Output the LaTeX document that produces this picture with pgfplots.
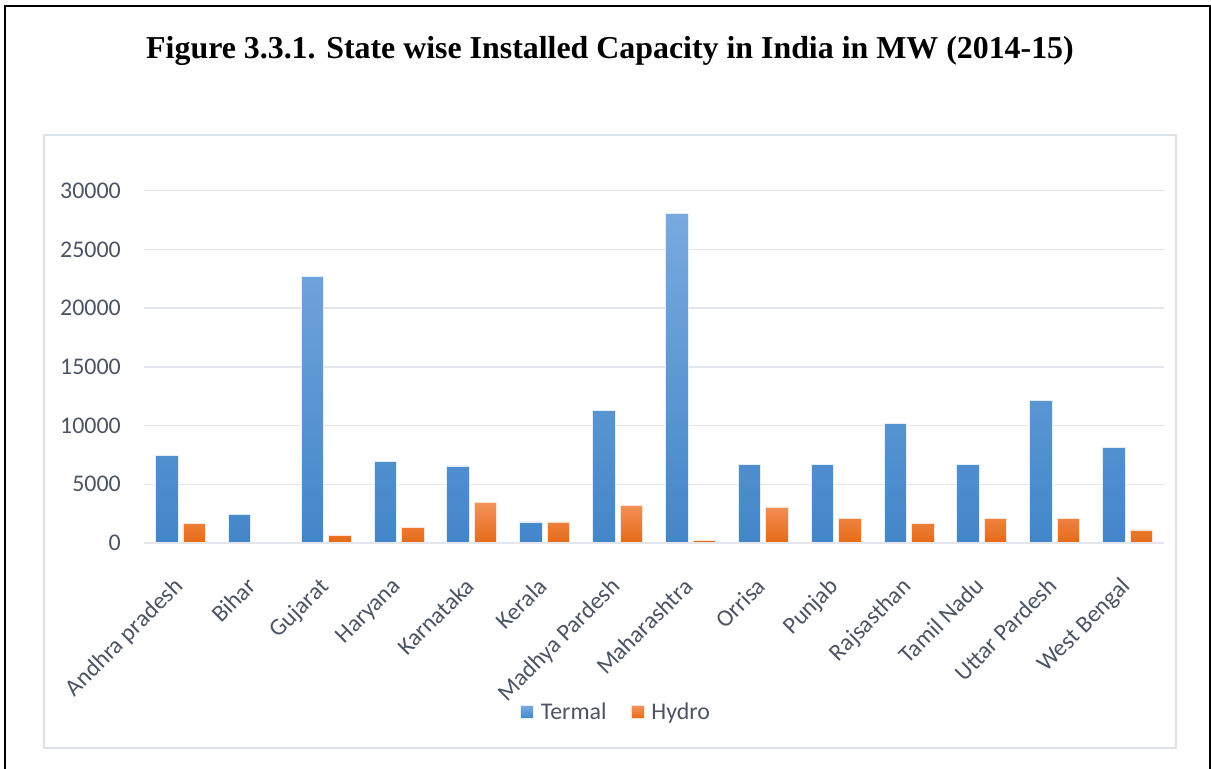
\documentclass[border=0pt]{standalone}
\usepackage{pgfplots}
\pgfplotsset{compat=1.18}
\usepackage{fontspec}
\setmainfont{Carlito}
\newfontfamily\titlefont{Liberation Serif}
\definecolor{txt}{HTML}{4A5464}
\definecolor{gridc}{HTML}{E3E6EA}
\definecolor{boxc}{HTML}{DDE2E8}
\definecolor{tTop}{HTML}{78AADF}
\definecolor{tBot}{HTML}{4386C9}
\definecolor{hTop}{HTML}{F3935C}
\definecolor{hBot}{HTML}{E66A17}
\begin{document}
\begin{tikzpicture}[x=1bp,y=1bp]
\path[use as bounding box] (0,0) rectangle (1211,-769);
\draw[black, line width=2bp] (5,-769) -- (5,-6) -- (1210,-6) -- (1210,-769);
\node[font=\titlefont\bfseries\fontsize{32}{36}\selectfont] at (610,-51) {Figure 3.3.1. State wise Installed Capacity in India in MW (2014-15)};
\draw[boxc, line width=1.8bp] (44,-135) rectangle (1176,-748);
\begin{axis}[
  at={(144bp,-543bp)}, anchor=south west,
  scale only axis, width=1020bp, height=352.3bp,
  ybar=5bp, bar width=22.5bp,
  xmin=-0.5, xmax=13.5, ymin=0, ymax=30000,
  ytick={0,5000,10000,15000,20000,25000,30000},
  scaled y ticks=false,
  ymajorgrids, grid style={gridc, line width=1.5bp},
  axis line style={draw=none},
  axis x line*=bottom, axis y line*=left,
  major tick length=0pt,
  xtick=data,
  xticklabels={Andhra pradesh,Bihar,Gujarat,Haryana,Karnataka,Kerala,Madhya Pardesh,Maharashtra,Orrisa,Punjab,Rajsasthan,Tamil Nadu,Uttar Pardesh,West Bengal},
  /pgf/number format/assume math mode=true,
  /pgf/number format/set thousands separator={},
  yticklabel style={font=\fontsize{24}{24}\selectfont, text=txt, inner sep=0pt, anchor=east, xshift=-23bp},
  xticklabel style={font=\fontsize{24}{24}\selectfont, text=txt, inner sep=0pt, xshift=-8bp, yshift=-33bp, anchor=north east, rotate=45},
  legend style={at={(0.4627,-0.48)}, anchor=center, draw=none, fill=none,
    legend columns=2, font=\fontsize{24}{24}\selectfont, text=txt,
    /tikz/every even column/.append style={column sep=22bp}},
  legend image code/.code={\draw[#1] (0bp,-6.5bp) rectangle (13bp,6.5bp); \path (18bp,0bp);},
  clip=false,
]
\addplot[top color=tTop, bottom color=tBot, draw=white!80!tTop, line width=0.8bp] coordinates {
(0,7440) (1,2410) (2,22700) (3,6980) (4,6560) (5,1790) (6,11270) (7,28100) (8,6670) (9,6670) (10,10160) (11,6670) (12,12150) (13,8120)};
\addplot[top color=hTop, bottom color=hBot, draw=white!75!hTop, line width=0.8bp] coordinates {
(0,1650) (1,0) (2,650) (3,1330) (4,3490) (5,1790) (6,3180) (7,230) (8,3070) (9,2100) (10,1680) (11,2100) (12,2100) (13,1110)};
\draw[gridc, line width=1.5bp] (rel axis cs:0,0) -- (rel axis cs:1,0);
\legend{Termal,Hydro}
\end{axis}
\end{tikzpicture}
\end{document}
